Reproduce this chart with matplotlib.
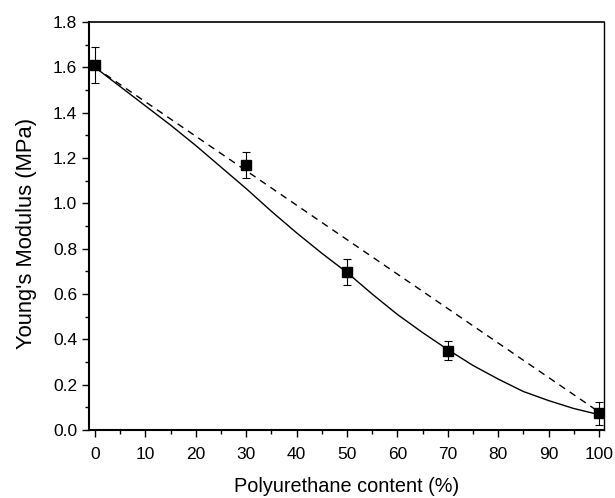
import matplotlib
matplotlib.use("Agg")
import matplotlib.pyplot as plt
from matplotlib.ticker import MultipleLocator

plt.rcParams['font.family'] = ['Liberation Sans', 'DejaVu Sans']

# measured data
pu_content = [0, 30, 50, 70, 100]
modulus = [1.61, 1.17, 0.696, 0.35, 0.073]
modulus_err = [0.08, 0.058, 0.058, 0.042, 0.05]

# fitted curve (solid)
fit_x = [0, 5, 10, 15, 20, 25, 30, 35, 40, 45, 50, 55, 60, 65, 70, 75, 80, 85, 90, 95, 100]
fit_y = [1.60, 1.515, 1.43, 1.345, 1.255, 1.16, 1.065, 0.965, 0.87, 0.78, 0.695,
         0.60, 0.51, 0.43, 0.355, 0.285, 0.225, 0.17, 0.13, 0.095, 0.068]

# rule of mixtures (dashed)
mix_x = [0, 100]
mix_y = [1.60, 0.08]

fig = plt.figure(figsize=(6.15, 4.98), dpi=100)
ax = fig.add_axes([0.1447, 0.1365, 0.8373, 0.8193])

ax.plot(fit_x, fit_y, color='black', lw=1.0)
ax.plot(mix_x, mix_y, color='black', lw=1.0, ls=(0, (5, 4)))
ax.errorbar(pu_content, modulus, yerr=modulus_err, fmt='s', color='black',
            ms=6.5, elinewidth=0.8, capsize=3, capthick=0.8)

ax.set_xlim(-1.2, 101)
ax.set_ylim(0, 1.8)
ax.xaxis.set_major_locator(MultipleLocator(10))
ax.xaxis.set_minor_locator(MultipleLocator(5))
ax.yaxis.set_major_locator(MultipleLocator(0.2))
ax.yaxis.set_minor_locator(MultipleLocator(0.1))
ax.yaxis.set_major_formatter(matplotlib.ticker.FormatStrFormatter('%.1f'))
ax.tick_params(which='both', direction='out', top=False, right=False, labelsize=12.5, width=1)
ax.tick_params(axis='x', pad=7)
ax.tick_params(which='major', length=5)
ax.tick_params(which='minor', length=3)
ax.spines['left'].set_linewidth(1.5)
ax.spines['bottom'].set_linewidth(1.5)
ax.spines['top'].set_linewidth(1.2)
ax.spines['right'].set_linewidth(1.0)

ax.set_xlabel('Polyurethane content (%)', fontsize=14.3, labelpad=11)
ax.set_ylabel("Young's Modulus (MPa)", fontsize=15.8)
ax.yaxis.set_label_coords(-0.101, 0.483)

fig.savefig('out.png', dpi=100)
